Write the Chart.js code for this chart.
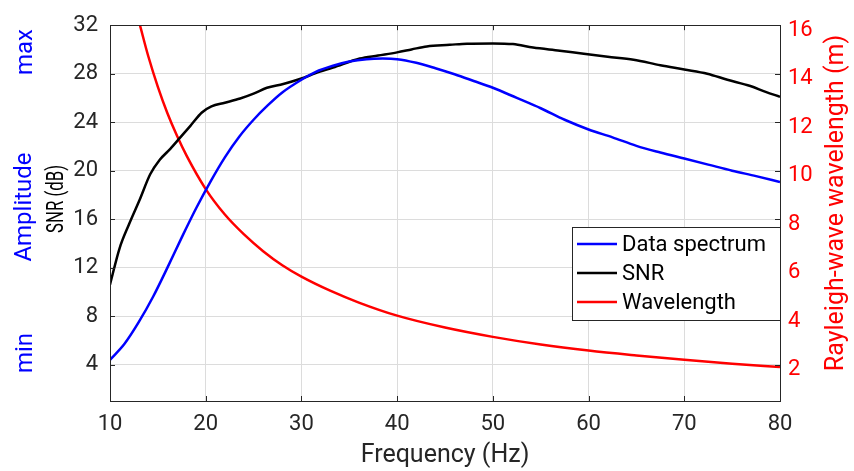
<!DOCTYPE html>
<html><head><meta charset="utf-8">
<script src="https://cdn.jsdelivr.net/npm/chart.js@4/dist/chart.umd.min.js"></script>
<style>html,body{margin:0;padding:0;background:#fff}#wrap{width:854px;height:471px}</style>
</head><body><div id="wrap"><canvas id="c" width="854" height="471"></canvas></div>
<script>
// ---- data ----
const freqSpectrum   = [10, 11.5, 13, 14.5, 16, 17.5, 19, 20.5, 22, 23.5, 25, 26.5, 28, 30, 31.5, 33.3, 35, 36.8, 38.5, 40, 42, 44, 46, 48, 50, 52.5, 55, 57.5, 60, 62.5, 65, 67.5, 70, 72.5, 75, 77.5, 80];
const spectrumValues = [4.4, 5.7, 7.5, 9.6, 12.0, 14.5, 16.9, 19.1, 21.1, 22.8, 24.2, 25.4, 26.45, 27.5, 28.15, 28.65, 29.0, 29.2, 29.25, 29.2, 28.9, 28.45, 27.95, 27.4, 26.84, 26.0, 25.15, 24.2, 23.4, 22.75, 22.05, 21.5, 21.0, 20.5, 20.0, 19.55, 19.07];

const freqSNR   = [10, 11, 12, 13.1, 14.2, 15.2, 16.3, 17.3, 18.4, 19.6, 20.6, 22, 23.6, 25, 26.4, 28.1, 30, 31.5, 33.3, 36.1, 38, 40, 41.5, 43.1, 45.5, 47.3, 50, 52.1, 54.2, 57, 59.5, 62, 64.7, 67.5, 70, 72.4, 74.5, 76.9, 78.5, 80];
const snrValues = [10.6, 13.6, 15.6, 17.6, 19.7, 20.9, 21.8, 22.7, 23.7, 24.8, 25.3, 25.6, 25.95, 26.35, 26.84, 27.15, 27.6, 28.05, 28.5, 29.25, 29.5, 29.76, 30.0, 30.25, 30.38, 30.48, 30.5, 30.44, 30.16, 29.9, 29.64, 29.4, 29.15, 28.7, 28.35, 28.0, 27.5, 26.98, 26.5, 26.1];

const freqWavelength   = [13.13, 14, 15, 16, 17, 18, 20, 22, 24, 26, 28, 30, 33, 36, 40, 45, 50, 55, 60, 65, 70, 75, 80];
const wavelengthValues = [16.0, 14.72, 13.46, 12.37, 11.44, 10.62, 9.24, 8.19, 7.37, 6.68, 6.10, 5.63, 5.05, 4.56, 4.02, 3.53, 3.145, 2.83, 2.58, 2.38, 2.2, 2.04, 1.9];

const xTicks = [10, 20, 30, 40, 50, 60, 70, 80];
const snrTicks = [4, 8, 12, 16, 20, 24, 28, 32];
const wavelengthTicks = [2, 4, 6, 8, 10, 12, 14, 16];
const seriesLabels = ['Data spectrum', 'SNR', 'Wavelength'];

// ---- styles ----
const FONT = 'Roboto';
const BLUE = '#0000ff', RED = '#ff0000', BLACK = '#000000';
const AXIS = '#262626';
const GRID = '#dcdcdc';

const pts = (xs, ys) => xs.map((x, i) => ({x: x, y: ys[i]}));

const decor = {
  id: 'decor',
  afterDatasetsDraw(chart) {
    const ctx = chart.ctx, a = chart.chartArea;
    const sx = chart.scales.x, sy = chart.scales.y, sy2 = chart.scales.y2;
    ctx.save();
    ctx.strokeStyle = AXIS; ctx.lineWidth = 1;
    const tl = 5;
    ctx.beginPath();
    xTicks.forEach(v => {
      const px = Math.round(sx.getPixelForValue(v)) + 0.5;
      ctx.moveTo(px, a.bottom); ctx.lineTo(px, a.bottom - tl);
      ctx.moveTo(px, a.top); ctx.lineTo(px, a.top + tl);
    });
    snrTicks.forEach(v => {
      const py = Math.round(sy.getPixelForValue(v)) + 0.5;
      ctx.moveTo(a.left, py); ctx.lineTo(a.left + tl, py);
    });
    wavelengthTicks.forEach(v => {
      const py = Math.round(sy2.getPixelForValue(v)) + 0.5;
      ctx.moveTo(a.right, py); ctx.lineTo(a.right - tl, py);
    });
    ctx.stroke();
    ctx.strokeRect(Math.round(a.left) + 0.5, Math.round(a.top) + 0.5, Math.round(a.right - a.left), Math.round(a.bottom - a.top));

    // legend
    const lx = 572, ly = 227, lw = 208, lh = 93;
    ctx.fillStyle = '#fff';
    ctx.fillRect(lx, ly, lw, lh);
    ctx.strokeStyle = AXIS;
    ctx.strokeRect(lx + 0.5, ly + 0.5, lw, lh);
    ctx.font = '22px ' + FONT;
    ctx.textBaseline = 'middle';
    ctx.textAlign = 'left';
    chart.data.datasets.forEach((ds, i) => {
      const yy = ly + 17 + i * 29;
      ctx.strokeStyle = ds.borderColor; ctx.lineWidth = 2.5;
      ctx.beginPath(); ctx.moveTo(lx + 5, yy); ctx.lineTo(lx + 45, yy); ctx.stroke();
      ctx.fillStyle = '#000';
      ctx.fillText(ds.label, lx + 50, yy + 1);
    });
    ctx.restore();
  },
  afterDraw(chart) {
    const ctx = chart.ctx;
    ctx.save();
    const rot = (text, x, y, font, color, baseline, stretch) => {
      ctx.save();
      ctx.translate(x, y);
      ctx.rotate(-Math.PI / 2);
      ctx.scale(stretch || 1, 1);
      ctx.font = font; ctx.fillStyle = color;
      ctx.textAlign = 'center'; ctx.textBaseline = baseline || 'middle';
      ctx.fillText(text, 0, 0);
      ctx.restore();
    };
    rot('Amplitude', 31, 207, '24px ' + FONT, BLUE, 'alphabetic');
    rot('max', 32, 52, '24px ' + FONT, BLUE, 'alphabetic');
    rot('min', 32, 353, '24px ' + FONT, BLUE, 'alphabetic');
    rot('SNR (dB)', 57, 199, '23px ' + FONT, '#000', 'middle', 0.73);
    rot('Rayleigh-wave wavelength (m)', 837, 203, '25px ' + FONT, RED);
    ctx.restore();
  }
};

new Chart(document.getElementById('c'), {
  type: 'line',
  data: {
    datasets: [
      {label: seriesLabels[0], data: pts(freqSpectrum, spectrumValues), borderColor: BLUE, yAxisID: 'y'},
      {label: seriesLabels[1], data: pts(freqSNR, snrValues), borderColor: BLACK, yAxisID: 'y'},
      {label: seriesLabels[2], data: pts(freqWavelength, wavelengthValues), borderColor: RED, yAxisID: 'y2'}
    ]
  },
  options: {
    responsive: false,
    devicePixelRatio: 1,
    animation: false,
    layout: {padding: {top: 22, left: 0, right: 0, bottom: 0}},
    elements: {
      line: {borderWidth: 2.5, cubicInterpolationMode: 'monotone', fill: false},
      point: {radius: 0, hoverRadius: 0}
    },
    plugins: {legend: {display: false}, tooltip: {enabled: false}},
    scales: {
      x: {
        type: 'linear', min: 10, max: 80,
        afterBuildTicks: s => { s.ticks = xTicks.map(v => ({value: v})); },
        afterFit: s => { s.height = 70; },
        grid: {color: GRID, drawTicks: false},
        border: {display: false},
        ticks: {font: {family: FONT, size: 22}, color: AXIS, padding: 10, maxRotation: 0},
        title: {display: true, text: 'Frequency (Hz)', font: {family: FONT, size: 25}, color: AXIS, padding: {top: 0, bottom: 0}}
      },
      y: {
        type: 'linear', position: 'left', min: 1, max: 32,
        afterBuildTicks: s => { s.ticks = snrTicks.map(v => ({value: v})); },
        afterFit: s => { s.width = 110; },
        grid: {color: GRID, drawTicks: false},
        border: {display: false},
        ticks: {font: {family: FONT, size: 22}, color: AXIS, padding: 12}
      },
      y2: {
        type: 'linear', position: 'right', min: 0.5, max: 16,
        afterBuildTicks: s => { s.ticks = wavelengthTicks.map(v => ({value: v})); },
        afterFit: s => { s.width = 74; },
        grid: {display: false, drawTicks: false},
        border: {display: false},
        ticks: {font: {family: FONT, size: 22}, color: RED, padding: 8, labelOffset: 5}
      }
    }
  },
  plugins: [decor]
});
</script>
</body></html>
